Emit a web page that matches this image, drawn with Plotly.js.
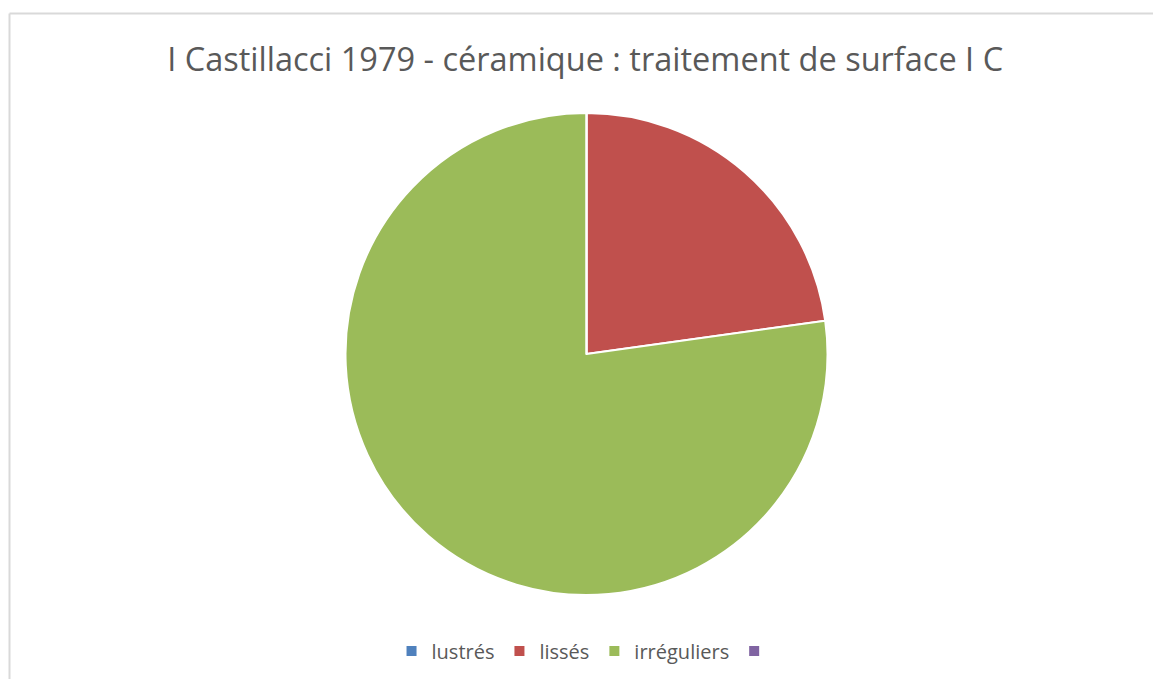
<!DOCTYPE html>
<html>
<head>
<meta charset="utf-8">
<script src="https://cdn.plot.ly/plotly-3.0.1.min.js"></script>
<style>html,body{margin:0;padding:0;background:#fff;}#chart{width:1153px;height:679px;}</style>
</head>
<body>
<div id="chart"></div>
<script>
const categories = ["lustrés", "lissés", "irréguliers", " "];
const values = [0, 22.8, 77.2, 0];
const colors = ["#4f81bd", "#c0504d", "#9bbb59", "#8064a2"];
const titleText = "I Castillacci 1979 - céramique : traitement de surface I C";

const W = 1153, H = 679;
const trace = {
  type: "pie",
  labels: categories,
  values: values,
  marker: {colors: colors, line: {color: "#ffffff", width: 2}},
  sort: false,
  direction: "clockwise",
  rotation: 0,
  textinfo: "none",
  hoverinfo: "label+value+percent",
  domain: {x: [345/W, 828/W], y: [1 - 595/H, 1 - 113/H]}
};
const layout = {
  width: W, height: H,
  margin: {l: 0, r: 0, t: 0, b: 0},
  paper_bgcolor: "#ffffff",
  font: {family: "Open Sans, Lato, sans-serif", color: "#595959"},
  title: {text: titleText, x: 0.5075, xanchor: "center", y: 1 - 60/H, yanchor: "middle",
          font: {size: 32.5, color: "#595959", family: "Open Sans, sans-serif"}},
  showlegend: true,
  legend: {orientation: "h", x: 0.51, xanchor: "center", y: 1 - 651/H, yanchor: "middle",
           font: {size: 20, color: "#595959"}, traceorder: "normal", itemclick: false},
  shapes: [
    {type: "line", xref: "paper", yref: "paper", x0: 9.5/W, x1: 1.01, y0: 1 - 13.5/H, y1: 1 - 13.5/H, line: {color: "#d9d9d9", width: 2}},
    {type: "line", xref: "paper", yref: "paper", x0: 9.5/W, x1: 9.5/W, y0: 1 - 13.5/H, y1: -0.01, line: {color: "#d9d9d9", width: 2}}
  ]
};
Plotly.newPlot("chart", [trace], layout, {displayModeBar: false, staticPlot: true});
</script>
</body>
</html>
